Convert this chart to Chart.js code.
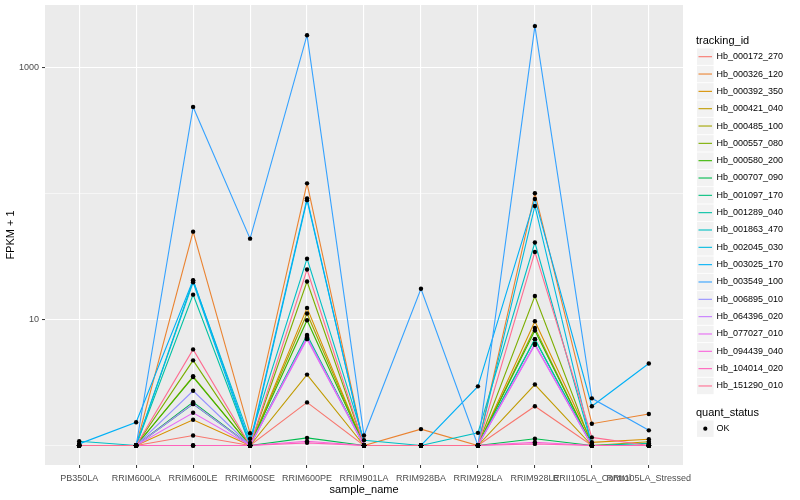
<!DOCTYPE html>
<html>
<head>
<meta charset="utf-8">
<script src="https://cdn.jsdelivr.net/npm/chart.js@4.4.1/dist/chart.umd.min.js"></script>
<style>
  html, body { margin: 0; padding: 0; background: #ffffff; }
  #chart { display: block; }
</style>
</head>
<body>
<canvas id="chart" width="800" height="500"></canvas>
<script>
// sample names on the x axis
const categories = ['PB350LA', 'RRIM600LA', 'RRIM600LE', 'RRIM600SE', 'RRIM600PE', 'RRIM901LA',
    'RRIM928BA', 'RRIM928LA', 'RRIM928LE', 'RRII105LA_Control', 'RRII105LA_Stressed'];

// FPKM + 1 per gene, one value per sample
const hb_000172_270 = [1.0, 1.0, 1.2, 1.0, 2.2, 1.0, 1.0, 1.0, 2.05, 1.0, 1.0];
const hb_000326_120 = [1.0, 1.0, 50, 1.25, 121, 1.0, 1.35, 1.0, 101, 1.49, 1.78];
const hb_000392_350 = [1.0, 1.0, 1.6, 1.0, 12.4, 1.0, 1.0, 1.0, 9.7, 1.06, 1.12];
const hb_000421_040 = [1.0, 1.0, 1.0, 1.0, 3.66, 1.0, 1.0, 1.0, 3.05, 1.0, 1.07];
const hb_000485_100 = [1.0, 1.0, 3.55, 1.0, 11.2, 1.0, 1.0, 1.0, 8.6, 1.0, 1.0];
const hb_000557_080 = [1.0, 1.0, 4.75, 1.0, 20.1, 1.0, 1.0, 1.0, 15.4, 1.0, 1.0];
const hb_000580_200 = [1.0, 1.0, 3.5, 1.0, 9.9, 1.0, 1.0, 1.0, 8.2, 1.0, 1.0];
const hb_000707_090 = [1.0, 1.0, 2.21, 1.0, 1.15, 1.0, 1.0, 1.0, 1.13, 1.0, 1.0];
const hb_001097_170 = [1.0, 1.0, 2.13, 1.0, 7.56, 1.0, 1.0, 1.0, 7.0, 1.0, 1.0];
const hb_001289_040 = [1.0, 1.0, 15.8, 1.0, 7.4, 1.0, 1.0, 1.0, 7.0, 1.0, 1.04];
const hb_001863_470 = [1.08, 1.0, 20.4, 1.13, 30.5, 1.1, 1.0, 1.26, 41, 1.0, 1.0];
const hb_002045_030 = [1.0, 1.0, 19.8, 1.0, 89, 1.0, 1.0, 1.0, 80, 1.0, 1.0];
const hb_003025_170 = [1.03, 1.53, 20.6, 1.05, 92, 1.0, 1.0, 2.95, 91, 2.05, 4.48];
const hb_003549_100 = [1.0, 1.0, 490, 44, 1820, 1.2, 17.6, 1.0, 2150, 2.37, 1.32];
const hb_006895_010 = [1.0, 1.0, 2.72, 1.0, 7.1, 1.0, 1.0, 1.0, 6.4, 1.0, 1.0];
const hb_064396_020 = [1.0, 1.0, 2.15, 1.0, 7.25, 1.0, 1.0, 1.0, 6.4, 1.0, 1.0];
const hb_077027_010 = [1.0, 1.0, 1.82, 1.0, 7.0, 1.0, 1.0, 1.0, 6.3, 1.0, 1.0];
const hb_094439_040 = [1.0, 1.0, 1.0, 1.0, 1.08, 1.0, 1.0, 1.0, 1.06, 1.0, 1.0];
const hb_104014_020 = [1.0, 1.0, 1.0, 1.0, 1.05, 1.0, 1.0, 1.0, 1.03, 1.0, 1.0];
const hb_151290_010 = [1.0, 1.0, 5.8, 1.0, 25, 1.0, 1.0, 1.0, 34.5, 1.16, 1.0];

const trackingIds = ['Hb_000172_270', 'Hb_000326_120', 'Hb_000392_350', 'Hb_000421_040', 'Hb_000485_100',
    'Hb_000557_080', 'Hb_000580_200', 'Hb_000707_090', 'Hb_001097_170', 'Hb_001289_040',
    'Hb_001863_470', 'Hb_002045_030', 'Hb_003025_170', 'Hb_003549_100', 'Hb_006895_010',
    'Hb_064396_020', 'Hb_077027_010', 'Hb_094439_040', 'Hb_104014_020', 'Hb_151290_010'];
const seriesValues = [hb_000172_270, hb_000326_120, hb_000392_350, hb_000421_040, hb_000485_100,
    hb_000557_080, hb_000580_200, hb_000707_090, hb_001097_170, hb_001289_040,
    hb_001863_470, hb_002045_030, hb_003025_170, hb_003549_100, hb_006895_010,
    hb_064396_020, hb_077027_010, hb_094439_040, hb_104014_020, hb_151290_010];

// y axis breaks: labelled ones and the minor ones in between
const yMajorTicks = [10, 1000];
const yMinorTicks = [1, 100];
const quantStatus = ['OK'];

// ggplot default hue palette, 20 levels
const colors = ['#F8766D', '#EA8331', '#D89000', '#C09B00', '#A3A500', '#7CAE00', '#39B600', '#00BB4E',
    '#00BF7D', '#00C1A3', '#00BFC4', '#00BAE0', '#00B0F6', '#35A2FF', '#9590FF', '#C77CFF',
    '#E76BF3', '#FA62DB', '#FF62BC', '#FF6C91'];

const FONT = '"Liberation Sans", Arial, Helvetica, sans-serif';

const lineSets = seriesValues.map(function(vals, s) {
    return {
        label: trackingIds[s],
        data: vals.map(function(v, i) { return { x: i, y: v }; }),
        borderColor: colors[s],
        backgroundColor: colors[s],
        borderWidth: 1.1,
        pointRadius: 0,
        tension: 0,
        fill: false,
        order: seriesValues.length - s
    };
});

// points layer drawn on top of every line
const pointSet = {
    type: 'scatter',
    label: quantStatus[0],
    data: seriesValues.flatMap(function(vals) {
        return vals.map(function(v, i) { return { x: i, y: v }; });
    }),
    showLine: false,
    pointRadius: 2.2,
    pointStyle: 'circle',
    pointBackgroundColor: '#000000',
    pointBorderWidth: 0,
    order: 0
};

const panelBg = {
    id: 'panelBg',
    beforeDraw: function(chart) {
        const a = chart.chartArea;
        const ctx = chart.ctx;
        ctx.save();
        ctx.fillStyle = '#EBEBEB';
        ctx.fillRect(a.left, a.top, a.right - a.left, a.bottom - a.top);
        ctx.restore();
    }
};

const sideLegend = {
    id: 'sideLegend',
    afterDraw: function(chart) {
        const ctx = chart.ctx;
        const x0 = 697, step = 17.33;
        ctx.save();
        ctx.textBaseline = 'middle';
        ctx.textAlign = 'left';
        ctx.fillStyle = '#000000';
        ctx.font = '11px ' + FONT;
        ctx.fillText('tracking_id', 696, 41);
        trackingIds.forEach(function(name, i) {
            const cy = 56.7 + i * step;
            ctx.fillStyle = '#F2F2F2';
            ctx.fillRect(x0, cy - 8.2, 16.6, 16.4);
            ctx.strokeStyle = colors[i];
            ctx.lineWidth = 1.1;
            ctx.beginPath();
            ctx.moveTo(x0 + 1.5, cy);
            ctx.lineTo(x0 + 15, cy);
            ctx.stroke();
            ctx.fillStyle = '#000000';
            ctx.font = '9px ' + FONT;
            ctx.fillText(name, 716.5, cy);
        });
        ctx.font = '11px ' + FONT;
        ctx.fillText('quant_status', 696, 412.7);
        const qy = 428.7;
        ctx.fillStyle = '#F2F2F2';
        ctx.fillRect(x0, qy - 8.2, 16.6, 16.4);
        ctx.fillStyle = '#000000';
        ctx.beginPath();
        ctx.arc(x0 + 8.3, qy, 2.1, 0, Math.PI * 2);
        ctx.fill();
        ctx.font = '9px ' + FONT;
        ctx.fillText(quantStatus[0], 716.5, qy);
        ctx.restore();
    }
};

new Chart(document.getElementById('chart'), {
    type: 'line',
    data: { datasets: lineSets.concat([pointSet]) },
    options: {
        responsive: false,
        animation: false,
        layout: { padding: { top: 5, right: 117, left: 0, bottom: 0 } },
        plugins: {
            legend: { display: false },
            tooltip: { enabled: false }
        },
        scales: {
            x: {
                type: 'linear',
                min: -0.6,
                max: categories.length - 0.4,
                afterBuildTicks: function(scale) {
                    scale.ticks = categories.map(function(c, i) { return { value: i }; });
                },
                afterFit: function(scale) { scale.height = 35; },
                ticks: {
                    autoSkip: false,
                    maxRotation: 0,
                    padding: 5,
                    color: '#4D4D4D',
                    font: { family: FONT, size: 9 },
                    callback: function(v) { return categories[v]; }
                },
                grid: {
                    color: '#FFFFFF',
                    lineWidth: 1.1,
                    tickColor: '#333333',
                    tickLength: 3,
                    tickWidth: 1
                },
                border: { display: false },
                title: {
                    display: true,
                    text: 'sample_name',
                    color: '#000000',
                    font: { family: FONT, size: 11 },
                    padding: { top: 0, bottom: 3 }
                }
            },
            y: {
                type: 'logarithmic',
                min: 0.706,
                max: 3162,
                afterBuildTicks: function(scale) {
                    scale.ticks = yMinorTicks.concat(yMajorTicks).sort(function(a, b) { return a - b; })
                        .map(function(v) { return { value: v }; });
                },
                afterFit: function(scale) {
                    scale.width = 45;
                    scale.paddingTop = 0;
                    scale.paddingBottom = 0;
                },
                ticks: {
                    autoSkip: false,
                    padding: 3,
                    color: '#4D4D4D',
                    font: { family: FONT, size: 9 },
                    callback: function(v) { return yMajorTicks.indexOf(v) >= 0 ? String(v) : ''; }
                },
                grid: {
                    color: '#FFFFFF',
                    lineWidth: function(c) {
                        return c.tick && yMajorTicks.indexOf(c.tick.value) >= 0 ? 1.1 : 0.55;
                    },
                    tickColor: function(c) {
                        return c.tick && yMajorTicks.indexOf(c.tick.value) >= 0 ? '#333333' : 'rgba(0,0,0,0)';
                    },
                    tickLength: 3,
                    tickWidth: 1
                },
                border: { display: false },
                title: {
                    display: true,
                    text: 'FPKM + 1',
                    color: '#000000',
                    font: { family: FONT, size: 11 },
                    padding: { top: 4, bottom: 0 }
                }
            }
        }
    },
    plugins: [panelBg, sideLegend]
});
</script>
</body>
</html>
